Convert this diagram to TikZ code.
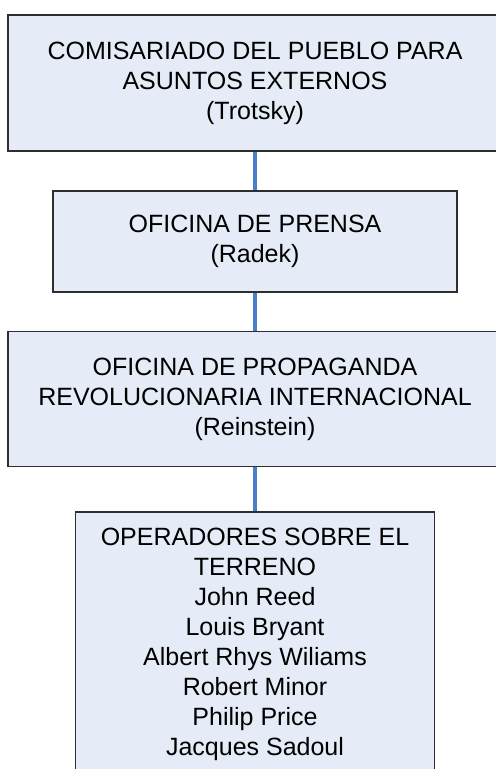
\documentclass[tikz,border=0pt]{standalone}
\usepackage{fontspec}
\setmainfont{Liberation Sans}
\usepackage{tikz}
\usetikzlibrary{positioning}

\definecolor{boxfill}{HTML}{E6ECF7}
\definecolor{boxline}{HTML}{2E2E2E}
\definecolor{linkblue}{HTML}{4A7EC9}

\tikzset{
  office/.style={draw=boxline, line width=0.9pt, fill=boxfill, align=center,
    inner sep=0pt, font=\fontsize{12.5pt}{15pt}\selectfont},
  link/.style={draw=linkblue, line width=1.6pt}
}

\begin{document}
\begin{tikzpicture}[node distance=19pt]

    \useasboundingbox (0,0) rectangle (247.5pt,-384.5pt);

    \node (comisariado) [office, minimum width=247pt, minimum height=68pt, anchor=north]
        at (127.5pt,-7pt) {COMISARIADO DEL PUEBLO PARA\\ASUNTOS EXTERNOS\\(Trotsky)};
    \node (prensa) [office, minimum width=202pt, minimum height=50.5pt, below=of comisariado]
        {OFICINA DE PRENSA\\(Radek)};
    \node (propaganda) [office, minimum width=247pt, minimum height=67.5pt, below=of prensa]
        {OFICINA DE PROPAGANDA\\REVOLUCIONARIA INTERNACIONAL\\(Reinstein)};
    \node (operadores) [office, minimum width=179.5pt, minimum height=132.5pt, below=22pt of propaganda]
        {OPERADORES SOBRE EL\\TERRENO\\John Reed\\Louis Bryant\\Albert Rhys Wiliams\\Robert Minor\\Philip Price\\Jacques Sadoul};

    \path[link] (comisariado) edge (prensa);
    \path[link] (prensa) edge (propaganda);
    \path[link] (propaganda) edge (operadores);

\end{tikzpicture}
\end{document}
